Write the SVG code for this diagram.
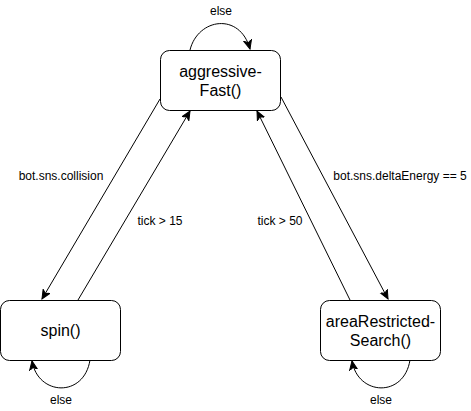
<svg xmlns="http://www.w3.org/2000/svg" width="471" height="411" viewBox="0 0 471 411">
<style>
.node rect{fill:#fff;stroke:#000;stroke-width:1}
.node text{font-family:"Liberation Sans",Arial,sans-serif;font-size:16px;fill:#000;text-anchor:middle}
.edge{fill:none;stroke:#000;stroke-width:1}
.lbl{font-family:"Liberation Sans",Arial,sans-serif;font-size:12px;fill:#000;text-anchor:middle}
</style>
<defs>
<marker id="arr" viewBox="0 0 10 10" refX="9" refY="5" markerWidth="10" markerHeight="10" markerUnits="userSpaceOnUse" orient="auto">
<path d="M0,1 L9,5 L0,9 L2.5,5 Z" fill="#000" stroke="#000" stroke-width="1"/>
</marker>
</defs>
<rect width="471" height="411" fill="#fff"/>
<g id="connectors">
<path class="edge" d="M160,99 L42,299" marker-end="url(#arr)"/>
<path class="edge" d="M78,300 L190,111" marker-end="url(#arr)"/>
<path class="edge" d="M281,97 L388,299" marker-end="url(#arr)"/>
<path class="edge" d="M350,300 L257,111" marker-end="url(#arr)"/>
<path class="edge" d="M190,50 C198,18 240,12 250,49" marker-end="url(#arr)"/>
<path class="edge" d="M90,360 C84,398 38,396 32,361" marker-end="url(#arr)"/>
<path class="edge" d="M410,360 C404,398 358,396 352,361" marker-end="url(#arr)"/>
<text class="lbl" x="221" y="15">else</text>
<text class="lbl" x="61" y="180">bot.sns.collision</text>
<text class="lbl" x="160" y="225">tick &gt; 15</text>
<text class="lbl" x="280" y="225">tick &gt; 50</text>
<text class="lbl" x="400" y="180">bot.sns.deltaEnergy == 5</text>
<text class="lbl" x="61" y="404">else</text>
<text class="lbl" x="381" y="404">else</text>
</g>
<g id="aggressiveFast" class="node">
<rect x="160.5" y="50.5" width="120" height="60" rx="9"/>
<text x="220.5" y="77">aggressive-</text>
<text x="220.5" y="96">Fast()</text>
</g>
<g id="spin" class="node">
<rect x="0.5" y="300.5" width="120" height="60" rx="9"/>
<text x="60.5" y="336">spin()</text>
</g>
<g id="areaRestrictedSearch" class="node">
<rect x="320.5" y="300.5" width="120" height="60" rx="9"/>
<text x="380.5" y="327">areaRestricted-</text>
<text x="380.5" y="346">Search()</text>
</g>
</svg>
